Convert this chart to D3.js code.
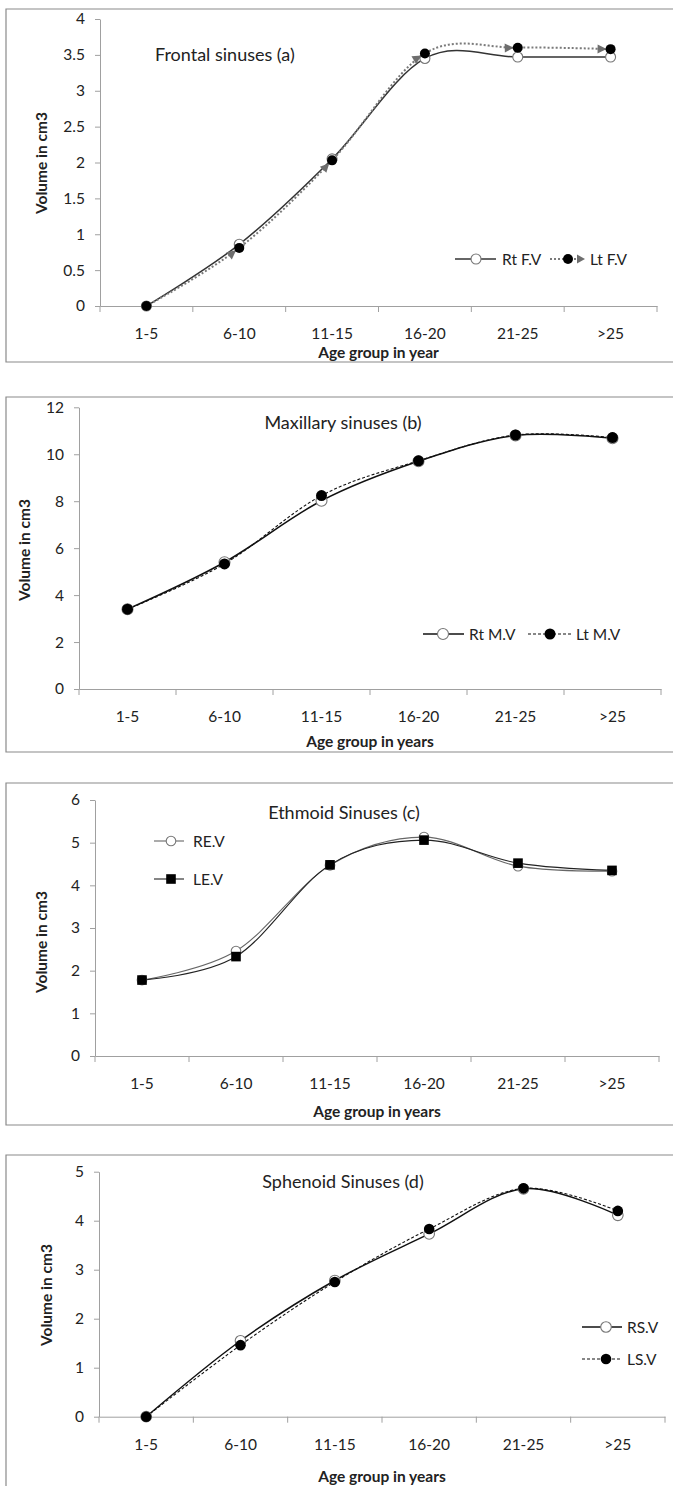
<!DOCTYPE html>
<html>
<head>
<meta charset="utf-8">
<script src="https://cdn.jsdelivr.net/npm/d3@7"></script>
<style>
  html, body { margin: 0; padding: 0; background: #fff; }
  svg { display: block; }
  text { font-family: Lato, "Open Sans", sans-serif; fill: #222; }
</style>
</head>
<body>
<svg id="chart" width="673" height="1486"></svg>
<script>
// ---------------- DATA ----------------
const categories = ["1-5", "6-10", "11-15", "16-20", "21-25", ">25"];

const frontalRt = [0, 0.86, 2.05, 3.45, 3.47, 3.47];
const frontalLt = [0, 0.81, 2.03, 3.52, 3.60, 3.58];

const maxillaryRt = [3.40, 5.40, 8.02, 9.70, 10.80, 10.68];
const maxillaryLt = [3.40, 5.33, 8.24, 9.72, 10.82, 10.71];

const ethmoidRt = [1.78, 2.46, 4.47, 5.13, 4.45, 4.33];
const ethmoidLt = [1.78, 2.33, 4.48, 5.06, 4.52, 4.35];

const sphenoidRt = [0, 1.55, 2.78, 3.73, 4.65, 4.11];
const sphenoidLt = [0, 1.46, 2.75, 3.83, 4.66, 4.20];

const yTicksFrontal = [0, 0.5, 1, 1.5, 2, 2.5, 3, 3.5, 4];
const yTicksMaxillary = [0, 2, 4, 6, 8, 10, 12];
const yTicksEthmoid = [0, 1, 2, 3, 4, 5, 6];
const yTicksSphenoid = [0, 1, 2, 3, 4, 5];

const titles = ["Frontal sinuses (a)", "Maxillary sinuses (b)", "Ethmoid Sinuses (c)", "Sphenoid Sinuses (d)"];
const xTitles = ["Age group in year", "Age group in years", "Age group in years", "Age group in years"];
const yTitle = "Volume in cm3";
const legendRt = ["Rt F.V", "Rt M.V", "RE.V", "RS.V"];
const legendLt = ["Lt F.V", "Lt M.V", "LE.V", "LS.V"];

// ---------------- LAYOUT ----------------
const FS_TICK = 15.5, FS_AXIS = 15.5, FS_TITLE = 18, FS_LEG = 15.5;

const panels = [
  { rt: frontalRt, lt: frontalLt, ticks: yTicksFrontal, frame: [9, 362],
    left: 100, right: 657, y0: 306, yTop: 19,
    title: { x: 155, y: 61, anchor: "start" }, xTitleY: 358, yTitlePos: [42, 163],
    ltStyle: { stroke: "#7a7a7a", width: 2, dash: "2,2", arrows: true }, rtStyle: { stroke: "#333", width: 1.5 },
    ltMarker: "dot", rtMarker: "circle", r: 5,
    legend: { type: "row", y: 259, rtLine: [455, 496], rtMark: 476, rtText: 502, ltLine: [550, 578], ltMark: 568, ltArrow: 585, ltText: 590 } },
  { rt: maxillaryRt, lt: maxillaryLt, ticks: yTicksMaxillary, frame: [397, 752],
    left: 79, right: 661, y0: 689, yTop: 407.3,
    title: { x: 343, y: 429, anchor: "middle" }, xTitleY: 747, yTitlePos: [25, 550],
    ltStyle: { stroke: "#111", width: 1.1, dash: "3,2" }, rtStyle: { stroke: "#111", width: 1.5 },
    ltMarker: "dot", rtMarker: "circle", r: 5.5,
    legend: { type: "row", y: 634, rtLine: [423, 464], rtMark: 443, rtText: 469, ltLine: [528, 572], ltMark: 550, ltText: 576 } },
  { rt: ethmoidRt, lt: ethmoidLt, ticks: yTicksEthmoid, frame: [783, 1125],
    left: 95, right: 659, y0: 1056, yTop: 800,
    title: { x: 344, y: 819, anchor: "middle" }, xTitleY: 1117, yTitlePos: [42, 942],
    ltStyle: { stroke: "#222", width: 1.1 }, rtStyle: { stroke: "#666", width: 1.1 },
    ltMarker: "square", rtMarker: "circle", r: 4.8,
    legend: { type: "col", rtY: 841, ltY: 879, line: [154, 184], mark: 171, text: 193 } },
  { rt: sphenoidRt, lt: sphenoidLt, ticks: yTicksSphenoid, frame: [1155, 1500],
    left: 99, right: 665, y0: 1416.7, yTop: 1171.7,
    title: { x: 343, y: 1188, anchor: "middle" }, xTitleY: 1482, yTitlePos: [47, 1295],
    ltStyle: { stroke: "#111", width: 1.1, dash: "3,2" }, rtStyle: { stroke: "#111", width: 1.5 },
    ltMarker: "dot", rtMarker: "circle", r: 5.3,
    legend: { type: "col", rtY: 1327, ltY: 1359, line: [582, 622], mark: 606, text: 627 } }
];

const svg = d3.select("#chart");
svg.append("rect").attr("width", 673).attr("height", 1486).attr("fill", "#fff");

function drawMarker(g, type, x, y, r) {
  if (type === "circle") {
    g.append("circle").attr("cx", x).attr("cy", y).attr("r", r)
      .attr("fill", "#fff").attr("stroke", "#777").attr("stroke-width", 1.1);
  } else if (type === "dot") {
    g.append("circle").attr("cx", x).attr("cy", y).attr("r", r).attr("fill", "#000");
  } else if (type === "square") {
    g.append("rect").attr("x", x - r).attr("y", y - r).attr("width", 2 * r).attr("height", 2 * r).attr("fill", "#000");
  }
}

function drawArrow(g, tipX, tipY, ux, uy, len, half, color) {
  const bx = tipX - ux * len, by = tipY - uy * len;
  const px = -uy, py = ux;
  g.append("path")
    .attr("d", `M${tipX},${tipY}L${bx + px * half},${by + py * half}L${bx - px * half},${by - py * half}Z`)
    .attr("fill", color);
}

panels.forEach((p, idx) => {
  const g = svg.append("g");

  // frame
  g.append("path")
    .attr("d", `M673,${p.frame[0]}H6V${p.frame[1]}H673`)
    .attr("fill", "none").attr("stroke", "#8a8a8a").attr("stroke-width", 1.2);

  const x = d3.scaleBand().domain(categories).range([p.left, p.right]).padding(0);
  const y = d3.scaleLinear().domain([0, d3.max(p.ticks)]).range([p.y0, p.yTop]);
  const cx = c => x(c) + x.bandwidth() / 2;

  // y axis
  const yAxis = g.append("g").attr("transform", `translate(${p.left},0)`)
    .call(d3.axisLeft(y).tickValues(p.ticks).tickSize(5).tickSizeOuter(0).tickPadding(10).tickFormat(d3.format("")));
  yAxis.select(".domain").attr("stroke", "#a0a0a0");
  yAxis.selectAll(".tick line").attr("stroke", "#a0a0a0");
  yAxis.selectAll("text").attr("font-size", FS_TICK).attr("fill", "#222").style("font-family", "Lato");

  // x axis (labels at band centres, ticks at band boundaries)
  const xAxis = g.append("g").attr("transform", `translate(0,${p.y0})`)
    .call(d3.axisBottom(x).tickSize(0).tickSizeOuter(0).tickPadding(0));
  xAxis.select(".domain").attr("stroke", "#a0a0a0");
  xAxis.selectAll("text").attr("font-size", FS_TICK).attr("y", 22).attr("fill", "#222").style("font-family", "Lato");
  const bounds = categories.map(c => x(c)).concat([p.right]);
  g.selectAll(null).data(bounds).enter().append("line")
    .attr("x1", d => d).attr("x2", d => d).attr("y1", p.y0).attr("y2", p.y0 + 6)
    .attr("stroke", "#a0a0a0");

  // titles
  g.append("text").attr("x", p.title.x).attr("y", p.title.y).attr("text-anchor", p.title.anchor)
    .attr("font-size", FS_TITLE).text(titles[idx]);
  g.append("text").attr("x", (p.left + p.right) / 2).attr("y", p.xTitleY).attr("text-anchor", "middle")
    .attr("font-size", FS_AXIS).attr("font-weight", "bold").text(xTitles[idx]);
  g.append("text").attr("transform", `translate(${p.yTitlePos[0]},${p.yTitlePos[1]}) rotate(-90)`)
    .attr("text-anchor", "middle").attr("dy", "0.35em")
    .attr("font-size", FS_AXIS).attr("font-weight", "bold").text(yTitle);

  const line = d3.line().x((d, i) => cx(categories[i])).y(d => y(d)).curve(d3.curveCatmullRom.alpha(0));

  // Rt series
  g.append("path").attr("d", line(p.rt)).attr("fill", "none")
    .attr("stroke", p.rtStyle.stroke).attr("stroke-width", p.rtStyle.width);
  // Lt series
  g.append("path").attr("d", line(p.lt)).attr("fill", "none")
    .attr("stroke", p.ltStyle.stroke).attr("stroke-width", p.ltStyle.width)
    .attr("stroke-dasharray", p.ltStyle.dash || null);

  const rtPts = p.rt.map((v, i) => [cx(categories[i]), y(v)]);
  const ltPts = p.lt.map((v, i) => [cx(categories[i]), y(v)]);

  rtPts.forEach(pt => drawMarker(g, p.rtMarker, pt[0], pt[1], p.r));

  if (p.ltStyle.arrows) {
    for (let i = 1; i < ltPts.length; i++) {
      const a = ltPts[i - 1];
      const b = i < ltPts.length - 1 ? ltPts[i + 1] : ltPts[i];
      let dx = b[0] - a[0], dy = b[1] - a[1];
      const L = Math.hypot(dx, dy); dx /= L; dy /= L;
      drawArrow(g, ltPts[i][0] - dx * (p.r - 1), ltPts[i][1] - dy * (p.r - 1), dx, dy, 9, 4.5, "#6e6e6e");
    }
  }
  ltPts.forEach(pt => drawMarker(g, p.ltMarker, pt[0], pt[1], p.r));

  // legend
  const L = p.legend;
  if (L.type === "row") {
    g.append("line").attr("x1", L.rtLine[0]).attr("x2", L.rtLine[1]).attr("y1", L.y).attr("y2", L.y)
      .attr("stroke", p.rtStyle.stroke).attr("stroke-width", p.rtStyle.width);
    drawMarker(g, p.rtMarker, L.rtMark, L.y, p.r);
    g.append("text").attr("x", L.rtText).attr("y", L.y).attr("dy", "0.36em").attr("font-size", FS_LEG).text(legendRt[idx]);
    g.append("line").attr("x1", L.ltLine[0]).attr("x2", L.ltLine[1]).attr("y1", L.y).attr("y2", L.y)
      .attr("stroke", p.ltStyle.stroke).attr("stroke-width", p.ltStyle.width)
      .attr("stroke-dasharray", p.ltStyle.dash || null);
    drawMarker(g, p.ltMarker, L.ltMark, L.y, p.r);
    if (L.ltArrow) drawArrow(g, L.ltArrow, L.y, 1, 0, 8, 4.5, "#6e6e6e");
    g.append("text").attr("x", L.ltText).attr("y", L.y).attr("dy", "0.36em").attr("font-size", FS_LEG).text(legendLt[idx]);
  } else {
    [[L.rtY, p.rtStyle, p.rtMarker, legendRt[idx]], [L.ltY, p.ltStyle, p.ltMarker, legendLt[idx]]].forEach(([ly, st, mk, label]) => {
      g.append("line").attr("x1", L.line[0]).attr("x2", L.line[1]).attr("y1", ly).attr("y2", ly)
        .attr("stroke", st.stroke).attr("stroke-width", st.width).attr("stroke-dasharray", st.dash || null);
      drawMarker(g, mk, L.mark, ly, p.r);
      g.append("text").attr("x", L.text).attr("y", ly).attr("dy", "0.36em").attr("font-size", FS_LEG).text(label);
    });
  }
});
</script>
</body>
</html>
